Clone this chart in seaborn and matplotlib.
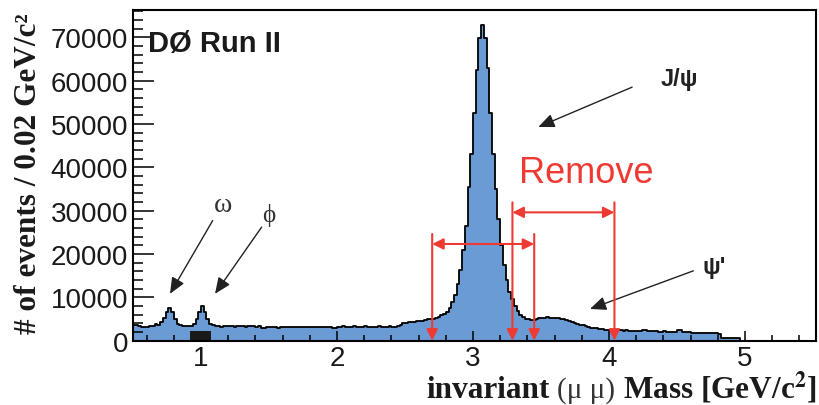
import numpy as np
import pandas as pd
import matplotlib
matplotlib.use("Agg")
import matplotlib.pyplot as plt
from matplotlib.patches import Rectangle
from matplotlib.ticker import MultipleLocator, StrMethodFormatter
import seaborn as sns

sns.set_style("ticks")
plt.rcParams["font.family"] = ["Liberation Sans", "DejaVu Sans"]
plt.rcParams["mathtext.fontset"] = "stix"

# Dimuon invariant mass spectrum, 0.02 GeV/c^2 bins starting at 0.50 GeV/c^2
bin_width = 0.02
mass_start = 0.50

# 0.50 - 1.08 : omega and phi region
low_mass_counts = [3700, 3500, 3400, 3100, 3100, 3200, 3300, 3300, 3800, 3500,
                   4200, 5200, 6600, 7500, 6700, 5000, 3900, 3500, 3400, 3400,
                   3400, 3400, 3800, 5000, 6500, 8100, 6500, 5000, 3900, 3500]
# 1.10 - 2.44 : flat continuum
continuum_counts = [3300, 3300, 3250, 3300, 3300, 3350, 3300, 3250, 3300, 3300,
                    3300, 3250, 3300, 3300, 3300, 3250, 3300, 2900, 2950, 3100,
                    3150, 3100, 3050, 3000, 3100, 3150, 3100, 3050, 3100, 3100,
                    3150, 3050, 3100, 3100, 3050, 3100, 3150, 3100, 3100, 3050,
                    3100, 3100, 3100, 2950, 2900, 3250, 3250, 3300, 3250, 3250,
                    3250, 3300, 3250, 3250, 3250, 3300, 3250, 3250, 3250, 3250,
                    3300, 3250, 3250, 3250, 3300, 3250, 3250, 3300]
# 2.46 - 2.78 : rise towards the J/psi
rise_counts = [3700, 4000, 4100, 4200, 4200, 4400, 4500, 4500, 4600, 4700,
               4900, 5000, 5100, 5200, 5500, 5800, 6200]
# 2.80 - 3.44 : J/psi peak
jpsi_counts = [6700, 7600, 8800, 10500, 13000, 16200, 20800, 26500, 35500, 43000,
               52500, 62500, 69800, 72800, 69800, 62800, 52500, 43000, 35000, 28000,
               22000, 17500, 14000, 11300, 9500, 8000, 6900, 6000, 5500, 5100,
               4900, 4800, 4800]
# 3.46 - 3.96 : psi(2S) shoulder
psi2s_counts = [5000, 5200, 5300, 5300, 5400, 5300, 5300, 5200, 5200, 5000,
                4900, 4700, 4500, 4300, 4100, 3900, 3700, 3500, 3300, 3150,
                3000, 2900, 2800, 2700, 2600, 2550]
# 3.98 - 4.98 : high mass tail
tail_counts = [2450, 2400, 2400, 2350, 2400, 2350, 2300, 2350, 2300, 2300,
               2250, 2300, 2300, 2400, 2400, 2250, 2200, 2150, 2150, 2100,
               2100, 2150, 2100, 2100, 2100, 2100, 2450, 2450, 2100, 2000,
               1900, 1800, 1750, 1750, 1750, 1700, 1700, 1700, 1650, 1650,
               1650, 1600, 600, 550, 550, 550, 500, 500, 500, 0, 0]

x_ticks = [1, 2, 3, 4, 5]
y_ticks = [0, 10000, 20000, 30000, 40000, 50000, 60000, 70000]

# mass windows (GeV/c^2)
jpsi_window = (2.70, 3.45)
psi2s_window = (3.29, 4.04)

counts = np.array(low_mass_counts + continuum_counts + rise_counts
                  + jpsi_counts + psi2s_counts + tail_counts, dtype=float)
edges = np.round(mass_start + bin_width * np.arange(len(counts) + 1), 2)
centers = edges[:-1] + bin_width / 2
df = pd.DataFrame({"mass": centers, "events": counts})

W, H = 819, 406
fig = plt.figure(figsize=(W / 100, H / 100), dpi=100)
ax = fig.add_axes([133 / W, (H - 341.6) / H, 683 / W, 330.6 / H])

sns.histplot(data=df, x="mass", weights="events", bins=edges.tolist(),
             element="step", fill=True, color="#6b9bd4", alpha=1,
             edgecolor="black", linewidth=1.3, ax=ax, zorder=2)
ax.set_xlabel("")
ax.set_ylabel("")

ax.set_xlim(0.5, 5.522)
ax.set_ylim(0, 76300)
ax.set_xticks(x_ticks)
ax.set_yticks(y_ticks)
ax.xaxis.set_minor_locator(MultipleLocator(0.2))
ax.yaxis.set_minor_locator(MultipleLocator(2000))
ax.yaxis.set_major_formatter(StrMethodFormatter("{x:.0f}"))

ax.tick_params(axis="both", which="both", direction="in", top=False,
               right=False, color="black", labelcolor="#1a1a1a", zorder=5)
ax.tick_params(axis="x", which="major", length=7.5, width=1.1, pad=3,
               labelsize=20)
ax.tick_params(axis="x", which="minor", length=4.5, width=1.1)
ax.tick_params(axis="y", which="major", length=15, width=1.1, pad=3.4,
               labelsize=20)
ax.tick_params(axis="y", which="minor", length=7.5, width=1.1)
for sp in ax.spines.values():
    sp.set_color("black")
    sp.set_linewidth(1.5)
    sp.set_zorder(6)
ax.set_axisbelow(False)

# excluded region marker under the phi
ax.add_patch(Rectangle((0.92, 0), 0.15, 2300, facecolor="#1a1a1a",
                       edgecolor="none", zorder=4))

red = "#ee3a32"
red_head = dict(color=red, lw=1.5, shrinkA=0, shrinkB=0, mutation_scale=11)
for lo, hi, y_bar, y_top in [(jpsi_window[0], jpsi_window[1], 22300, 24600),
                             (psi2s_window[0], psi2s_window[1], 29600, 31900)]:
    for m in (lo, hi):
        ax.annotate("", xy=(m, 0), xytext=(m, y_top),
                    arrowprops=dict(arrowstyle="-|>,head_length=0.6,head_width=0.3",
                                    **red_head), zorder=7)
    ax.annotate("", xy=(hi, y_bar), xytext=(lo, y_bar),
                arrowprops=dict(arrowstyle="<|-|>,head_length=0.6,head_width=0.3",
                                **red_head), zorder=7)

ax.text(3.835, 38800, "Remove", color=red, fontsize=26, ha="center",
        va="center", zorder=8)

dark = "#222222"
greek_serif = ["Liberation Serif", "DejaVu Serif"]
black_head = dict(arrowstyle="-|>,head_length=0.7,head_width=0.3", color=dark,
                  lw=1.0, shrinkA=0, shrinkB=0, mutation_scale=14)
ax.annotate("", xy=(3.48, 49300), xytext=(4.17, 58500), arrowprops=black_head)
ax.text(4.52, 60400, "J/ψ", fontsize=17, fontweight="bold", color=dark,
        ha="center", va="center")
ax.annotate("", xy=(3.86, 7300), xytext=(4.62, 16100), arrowprops=black_head)
ax.text(4.77, 17000, "ψ'", fontsize=17, fontweight="bold", color=dark,
        ha="center", va="center")
ax.annotate("", xy=(0.772, 10800), xytext=(1.086, 27700), arrowprops=black_head)
ax.text(1.16, 31300, "ω", fontsize=20, color="#333333", family=greek_serif,
        ha="center", va="center")
ax.annotate("", xy=(1.103, 10800), xytext=(1.446, 26200), arrowprops=black_head)
ax.text(1.50, 29000, "ϕ", fontsize=18, color="#333333", family=greek_serif,
        ha="center", va="center")

ax.text(0.61, 66950, "DØ Run II", fontsize=21, fontweight="bold",
        color="#1a1a1a", ha="left", va="baseline")

# axis titles: x title built from three pieces laid end to end, right-aligned
serif = "Liberation Serif"
title_size = 22.5
base_y = (H - 398) / H
renderer = fig.canvas.get_renderer()
gap = 7.5  # pixels, one word space
pieces = [(r"Mass [GeV/c$^{\mathbf{2}}$]", "bold", title_size, "#1a1a1a"),
          ("(μ μ)", "normal", 21, "#333333"),
          ("invariant", "bold", title_size, "#1a1a1a")]
right_px = 816.7
for txt, weight, size, col in pieces:
    t = fig.text(right_px / W, base_y, txt, fontsize=size, fontweight=weight,
                 family=serif, ha="right", va="baseline", color=col)
    bb = t.get_window_extent(renderer)
    right_px = bb.x0 - gap

fig.text(36 / W, (H - 13) / H, "# of events / 0.02 GeV/c²", fontsize=22.5,
         fontweight="bold", family=serif, rotation=90, rotation_mode="anchor",
         ha="right", va="baseline", color="#1a1a1a")

fig.savefig("out.png", dpi=100)
